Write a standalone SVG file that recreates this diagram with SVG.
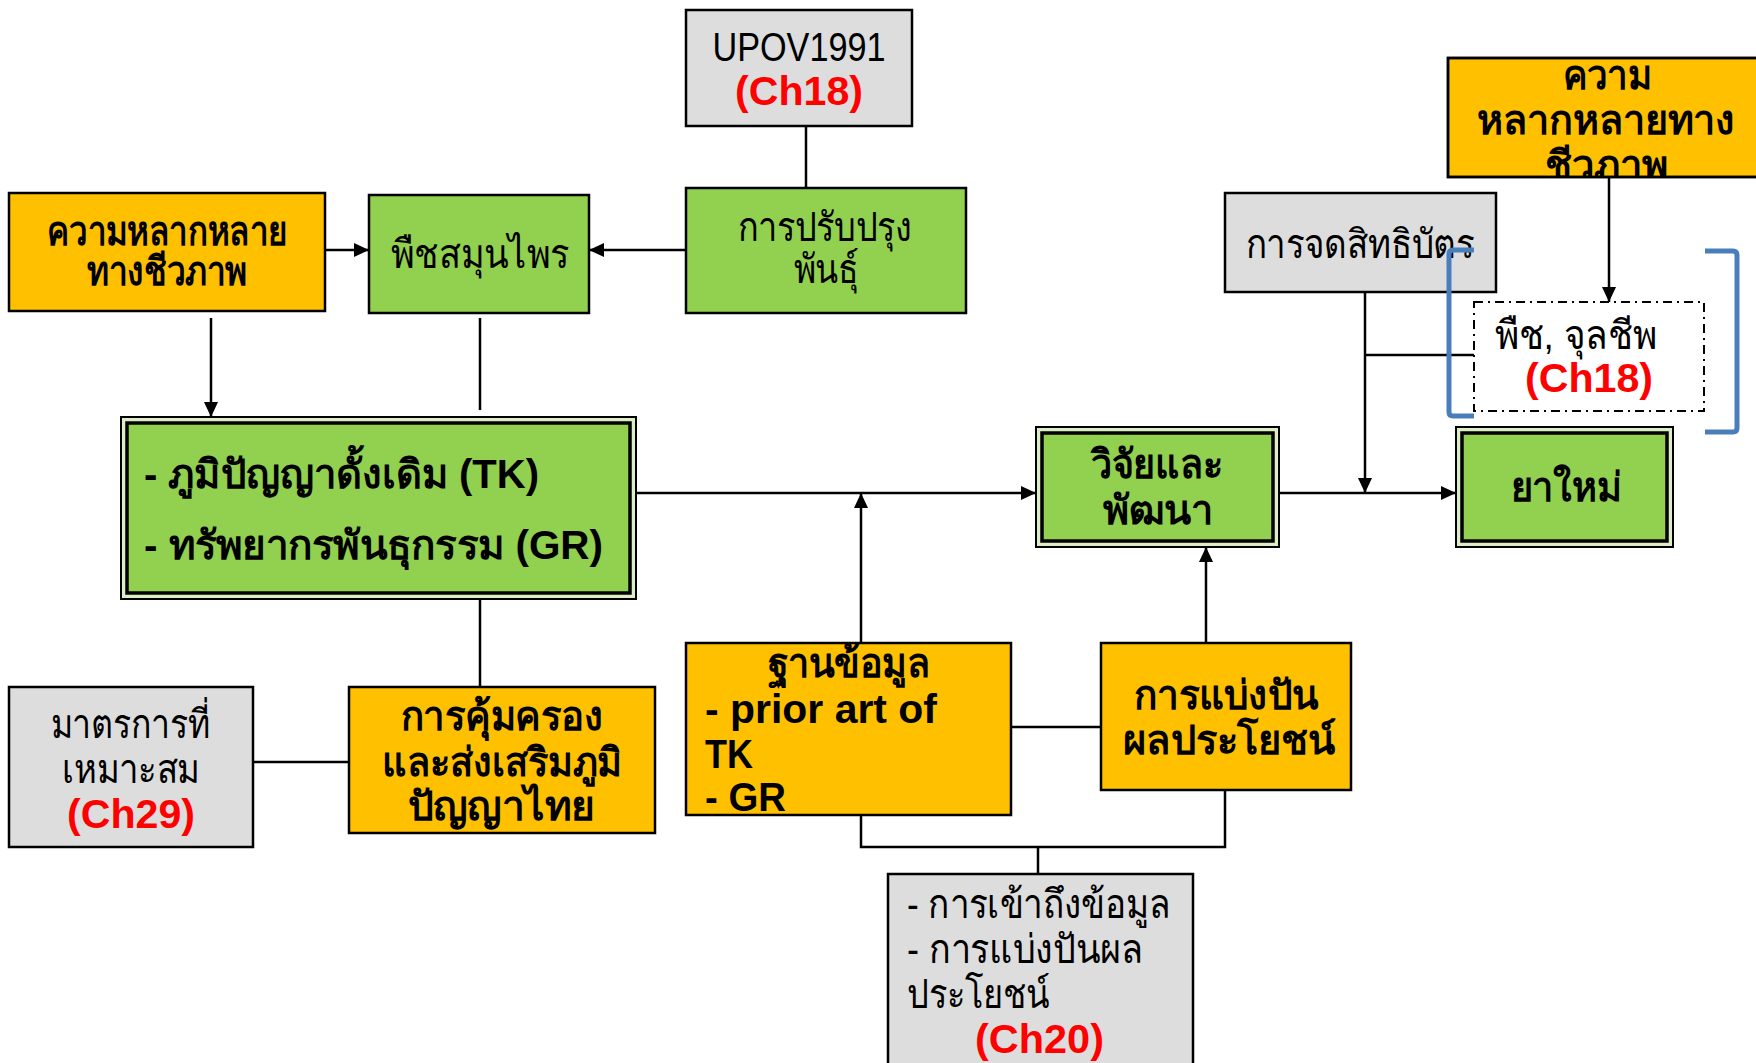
<svg xmlns="http://www.w3.org/2000/svg" width="1756" height="1063" viewBox="0 0 1756 1063">
<style>
text{font-family:"Liberation Sans","Noto Sans","DejaVu Sans",sans-serif;font-size:40px;fill:#000}
.b{font-weight:bold}
.r{fill:#FF0000;font-weight:bold;font-size:41px}
.m{text-anchor:middle}
.box{stroke:#000;stroke-width:2.5}
.green{fill:#92D050}
.orange{fill:#FFC000}
.gray{fill:#DDDDDD}
.conn line,.conn polyline{stroke:#000;stroke-width:2.5;fill:none}
.arr{marker-end:url(#ah)}
.brk{fill:none;stroke:#4A7EBB;stroke-width:5}
</style>
<defs>
<marker id="ah" markerUnits="userSpaceOnUse" markerWidth="16" markerHeight="16" viewBox="0 0 16 16" refX="15" refY="8" orient="auto">
<path d="M0,1 L15,8 L0,15 Z" fill="#000"/>
</marker>
<clipPath id="clipR"><rect x="1448" y="58" width="320" height="119"/></clipPath>
</defs>
<rect width="1756" height="1063" fill="#fff"/>

<g id="n-upov">
<rect class="box gray" x="686" y="10" width="226" height="116"/>
<text class="m" x="799" y="61" font-size="43" textLength="173" lengthAdjust="spacingAndGlyphs">UPOV1991</text>
<text class="m r" x="799" y="105" textLength="128" lengthAdjust="spacingAndGlyphs">(Ch18)</text>
</g>

<g id="n-breeding">
<rect class="box green" x="686" y="188" width="280" height="125"/>
<text class="m" x="825" y="241" textLength="175" lengthAdjust="spacingAndGlyphs">การปรับปรุง</text>
<text class="m" x="826" y="283" textLength="65" lengthAdjust="spacingAndGlyphs">พันธุ์</text>
</g>

<g id="n-herb">
<rect class="box green" x="369" y="195" width="220" height="118"/>
<text class="m" x="480" y="268" textLength="178" lengthAdjust="spacingAndGlyphs">พืชสมุนไพร</text>
</g>

<g id="n-biodiv-left">
<rect class="box orange" x="9" y="193" width="316" height="118"/>
<text class="m b" x="167" y="245" textLength="240" lengthAdjust="spacingAndGlyphs">ความหลากหลาย</text>
<text class="m b" x="167" y="285" textLength="160" lengthAdjust="spacingAndGlyphs">ทางชีวภาพ</text>
</g>

<g id="n-tkgr">
<rect x="121" y="417" width="515" height="182" fill="#DCEFC4" stroke="#000" stroke-width="2"/>
<rect x="127" y="423" width="503" height="170" class="green" stroke="#000" stroke-width="3.5"/>
<text class="b" x="144" y="488" textLength="395" lengthAdjust="spacingAndGlyphs">- ภูมิปัญญาดั้งเดิม (TK)</text>
<text class="b" x="144" y="559" textLength="459" lengthAdjust="spacingAndGlyphs">- ทรัพยากรพันธุกรรม (GR)</text>
</g>

<g id="n-rd">
<rect x="1036" y="427" width="243" height="120" fill="#DCEFC4" stroke="#000" stroke-width="2"/>
<rect x="1042" y="433" width="231" height="108" class="green" stroke="#000" stroke-width="3.5"/>
<text class="m b" x="1157" y="478" textLength="132" lengthAdjust="spacingAndGlyphs">วิจัยและ</text>
<text class="m b" x="1158" y="524" textLength="110" lengthAdjust="spacingAndGlyphs">พัฒนา</text>
</g>

<g id="n-newdrug">
<rect x="1456" y="427" width="217" height="120" fill="#DCEFC4" stroke="#000" stroke-width="2"/>
<rect x="1462" y="433" width="205" height="108" class="green" stroke="#000" stroke-width="3.5"/>
<text class="m b" x="1566" y="501" textLength="111" lengthAdjust="spacingAndGlyphs">ยาใหม่</text>
</g>

<g id="n-patent">
<rect class="box gray" x="1225" y="193" width="271" height="99"/>
<text class="m" x="1360" y="258" textLength="229" lengthAdjust="spacingAndGlyphs">การจดสิทธิบัตร</text>
</g>

<g id="n-biodiv-right">
<rect class="box orange" x="1448" y="58" width="320" height="119"/>
<g clip-path="url(#clipR)">
<text class="m b" x="1607" y="89" textLength="89" lengthAdjust="spacingAndGlyphs">ความ</text>
<text class="m b" x="1606" y="134" textLength="258" lengthAdjust="spacingAndGlyphs">หลากหลายทาง</text>
<text class="m b" x="1606" y="179" textLength="123" lengthAdjust="spacingAndGlyphs">ชีวภาพ</text>
</g>
<rect x="1448" y="58" width="320" height="119" fill="none" stroke="#000" stroke-width="2.5"/>
</g>

<g id="n-plants">
<rect x="1474" y="302" width="230" height="109" fill="#fff" stroke="#000" stroke-width="2" stroke-dasharray="9 5 2 5"/>
<text class="m" x="1576" y="349" textLength="163" lengthAdjust="spacingAndGlyphs">พืช, จุลชีพ</text>
<text class="m r" x="1589" y="392" textLength="128" lengthAdjust="spacingAndGlyphs">(Ch18)</text>
</g>

<g id="n-database">
<rect class="box orange" x="686" y="643" width="325" height="172"/>
<text class="m b" x="849" y="677" textLength="163" lengthAdjust="spacingAndGlyphs">ฐานข้อมูล</text>
<text class="b" x="705" y="723" textLength="232" lengthAdjust="spacingAndGlyphs">- prior art of</text>
<text class="b" x="705" y="768" textLength="48" lengthAdjust="spacingAndGlyphs">TK</text>
<text class="b" x="705" y="811" textLength="81" lengthAdjust="spacingAndGlyphs">- GR</text>
</g>

<g id="n-benefit">
<rect class="box orange" x="1101" y="643" width="250" height="147"/>
<text class="m b" x="1226" y="709" textLength="184" lengthAdjust="spacingAndGlyphs">การแบ่งปัน</text>
<text class="m b" x="1229" y="754" textLength="212" lengthAdjust="spacingAndGlyphs">ผลประโยชน์</text>
</g>

<g id="n-protect">
<rect class="box orange" x="349" y="687" width="306" height="146"/>
<text class="m b" x="502" y="730" textLength="203" lengthAdjust="spacingAndGlyphs">การคุ้มครอง</text>
<text class="m b" x="502" y="776" textLength="240" lengthAdjust="spacingAndGlyphs">และส่งเสริมภูมิ</text>
<text class="m b" x="501" y="820" textLength="187" lengthAdjust="spacingAndGlyphs">ปัญญาไทย</text>
</g>

<g id="n-measures">
<rect class="box gray" x="9" y="687" width="244" height="160"/>
<text class="m" x="130" y="738" textLength="159" lengthAdjust="spacingAndGlyphs">มาตรการที่</text>
<text class="m" x="131" y="783" textLength="138" lengthAdjust="spacingAndGlyphs">เหมาะสม</text>
<text class="m r" x="131" y="828" textLength="128" lengthAdjust="spacingAndGlyphs">(Ch29)</text>
</g>

<g id="n-access">
<rect class="box gray" x="888" y="874" width="305" height="200"/>
<text x="907" y="918" textLength="264" lengthAdjust="spacingAndGlyphs">- การเข้าถึงข้อมูล</text>
<text x="907" y="963" textLength="236" lengthAdjust="spacingAndGlyphs">- การแบ่งปันผล</text>
<text x="907" y="1008" textLength="142" lengthAdjust="spacingAndGlyphs">ประโยชน์</text>
<text class="r" x="975" y="1053" textLength="129" lengthAdjust="spacingAndGlyphs">(Ch20)</text>
</g>

<g id="connectors" class="conn">
<line x1="806" y1="126" x2="806" y2="188" stroke-width="2"/>
<line class="arr" x1="325" y1="250" x2="369" y2="250"/>
<line class="arr" x1="686" y1="250" x2="589" y2="250"/>
<line class="arr" x1="211" y1="318" x2="211" y2="417"/>
<line x1="480" y1="318" x2="480" y2="410" stroke-width="2"/>
<line x1="480" y1="599" x2="480" y2="687" stroke-width="2"/>
<line x1="253" y1="762" x2="349" y2="762"/>
<line class="arr" x1="636" y1="493" x2="1036" y2="493"/>
<line class="arr" x1="861" y1="643" x2="861" y2="493"/>
<line x1="1011" y1="727" x2="1101" y2="727"/>
<line class="arr" x1="1206" y1="643" x2="1206" y2="547"/>
<polyline points="861,815 861,847 1225,847 1225,790"/>
<line x1="1038" y1="847" x2="1038" y2="874"/>
<line class="arr" x1="1279" y1="493" x2="1456" y2="493"/>
<line class="arr" x1="1365" y1="292" x2="1365" y2="493"/>
<line x1="1365" y1="355" x2="1474" y2="355"/>
<line class="arr" x1="1609" y1="177" x2="1609" y2="302"/>
</g>

<g id="bracket">
<path class="brk" d="M1474,250 L1453,250 Q1449,250 1449,254 L1449,412 Q1449,416 1453,416 L1474,416"/>
<path class="brk" d="M1705,251 L1733,251 Q1737,251 1737,255 L1737,428 Q1737,432 1733,432 L1705,432"/>
</g>
</svg>
